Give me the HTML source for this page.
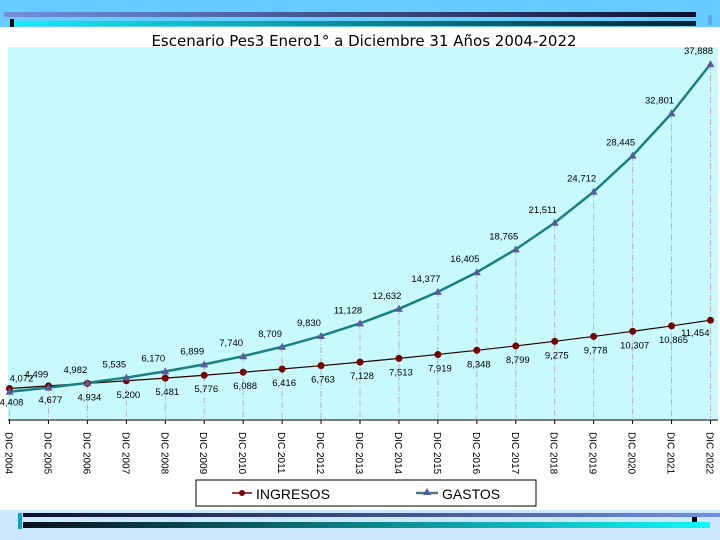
<!DOCTYPE html>
<html><head><meta charset="utf-8"><style>
html,body{margin:0;padding:0;width:720px;height:540px;overflow:hidden;background:#fff;font-family:"Liberation Sans",sans-serif}
</style></head><body>
<svg width="720" height="540" xmlns="http://www.w3.org/2000/svg">
<defs>
<linearGradient id="gb" x1="0" x2="1"><stop offset="0" stop-color="#7090e0"/><stop offset="1" stop-color="#0a1030"/></linearGradient>
<linearGradient id="gc" x1="0" x2="1"><stop offset="0" stop-color="#10f0f8"/><stop offset="1" stop-color="#08202a"/></linearGradient>
<linearGradient id="gb2" x1="0" x2="1"><stop offset="0" stop-color="#0a1030"/><stop offset="1" stop-color="#7090e0"/></linearGradient>
<linearGradient id="gc2" x1="0" x2="1"><stop offset="0" stop-color="#08101a"/><stop offset="1" stop-color="#10f8f8"/></linearGradient>
</defs>
<rect x="0" y="0" width="720" height="27" fill="#66ccff"/>
<rect x="4" y="12" width="692" height="5" fill="url(#gb)"/>
<rect x="14" y="21" width="682" height="5" fill="url(#gc)"/>
<rect x="10" y="19" width="4" height="8" fill="#000"/>
<rect x="708" y="15" width="4" height="10" fill="#6aa0e8"/>
<rect x="0" y="510" width="720" height="30" fill="#cce8ff"/>
<rect x="23" y="513" width="697" height="4" fill="url(#gb2)"/>
<rect x="23" y="522" width="687" height="6" fill="url(#gc2)"/>
<rect x="18" y="513" width="4" height="16" fill="#10a0d0"/>
<rect x="692" y="517" width="5" height="5" fill="#000"/>
<text x="364" y="46" text-anchor="middle" font-family="DejaVu Sans, sans-serif" font-size="15" fill="#000">Escenario Pes3 Enero1° a Diciembre 31 Años 2004-2022</text>
<rect x="8" y="47" width="710" height="373" fill="#c8fafc"/>
<g id="chart"></g>
<rect x="196" y="480" width="340" height="26" fill="#fff" stroke="#000" stroke-width="1"/>
<g>
<line x1="232" y1="493" x2="252" y2="493" stroke="#700" stroke-width="1.5"/><circle cx="242" cy="493" r="3" fill="#700"/>
<text x="256" y="499" font-size="14" fill="#000">INGRESOS</text></g>
<g>
<line x1="416" y1="493" x2="438" y2="493" stroke="#4a7a8a" stroke-width="2.5"/><polygon points="427,488 423,495 431,495" fill="#5a5aa0"/>
<text x="442" y="499" font-size="14" fill="#000">GASTOS</text></g>
</svg>
<script>
const years=["2004","2005","2006","2007","2008","2009","2010","2011","2012","2013","2014","2015","2016","2017","2018","2019","2020","2021","2022"];
const ingresos=[4408,4677,4934,5200,5481,5776,6088,6416,6763,7128,7513,7919,8348,8799,9275,9778,10307,10865,11454];
const gastos=[4072,4499,4982,5535,6170,6899,7740,8709,9830,11128,12632,14377,16405,18765,21511,24712,28445,32801,37888];
const NS="http://www.w3.org/2000/svg";
const g=document.getElementById('chart');
function xs(i){return 9.5+i*(701/(years.length-1));}
function ys(v){return 431.2-v*0.00969;}
function fmt(v){return v.toLocaleString('en-US');}
function mk(t,a){const e=document.createElementNS(NS,t);for(const k in a)e.setAttribute(k,a[k]);g.appendChild(e);return e;}
// axis
let ax=mk('line',{x1:8,y1:420,x2:718,y2:420,stroke:'#000','stroke-width':1});


years.forEach((y,i)=>{
  const x=xs(i);
  const top=Math.min(ys(gastos[i]),ys(ingresos[i]));
  const d=mk('line',{x1:x,y1:top,x2:x,y2:420,stroke:'#c0a8c8','stroke-width':1,'stroke-dasharray':'6,2,1,2'});
  
  
  const tk=mk('line',{x1:x,y1:420,x2:x,y2:424,stroke:'#000'});
  
  
  const t=mk('text',{x:0,y:0,'font-size':10,fill:'#000',transform:`translate(${x-4},432) rotate(90)`});
  t.textContent='DIC '+y;
  
  
});
let p1=mk('polyline',{points:ingresos.map((v,i)=>xs(i)+','+ys(v)).join(' '),fill:'none',stroke:'#200',"stroke-width":1.2});


let p2=mk('polyline',{points:gastos.map((v,i)=>xs(i)+','+ys(v)).join(' '),fill:'none',stroke:'#1a8080',"stroke-width":2.5});


ingresos.forEach((v,i)=>{
  const x=xs(i),y=ys(v);
  const c=mk('circle',{cx:x,cy:y,r:3.5,fill:'#700'});
  
  
  const last=i===ingresos.length-1;
  const t=mk('text',{x:last?x-1:x+2,y:last?y+16:y+17,'font-size':9.5,'text-anchor':last?'end':'middle',fill:'#000'});
  t.textContent=fmt(v);
  
  
});
gastos.forEach((v,i)=>{
  const x=xs(i),y=ys(v);
  const tr=mk('polygon',{points:`${x},${y-4} ${x-4},${y+3} ${x+4},${y+3}`,fill:'#5a5aa0'});
  
  
  const t=mk('text',{x:i===0?x+12:x-12,y:y-10,'font-size':9.5,'text-anchor':'middle',fill:'#000'});
  t.textContent=fmt(v);
  
  
});
</script>
</body></html>
